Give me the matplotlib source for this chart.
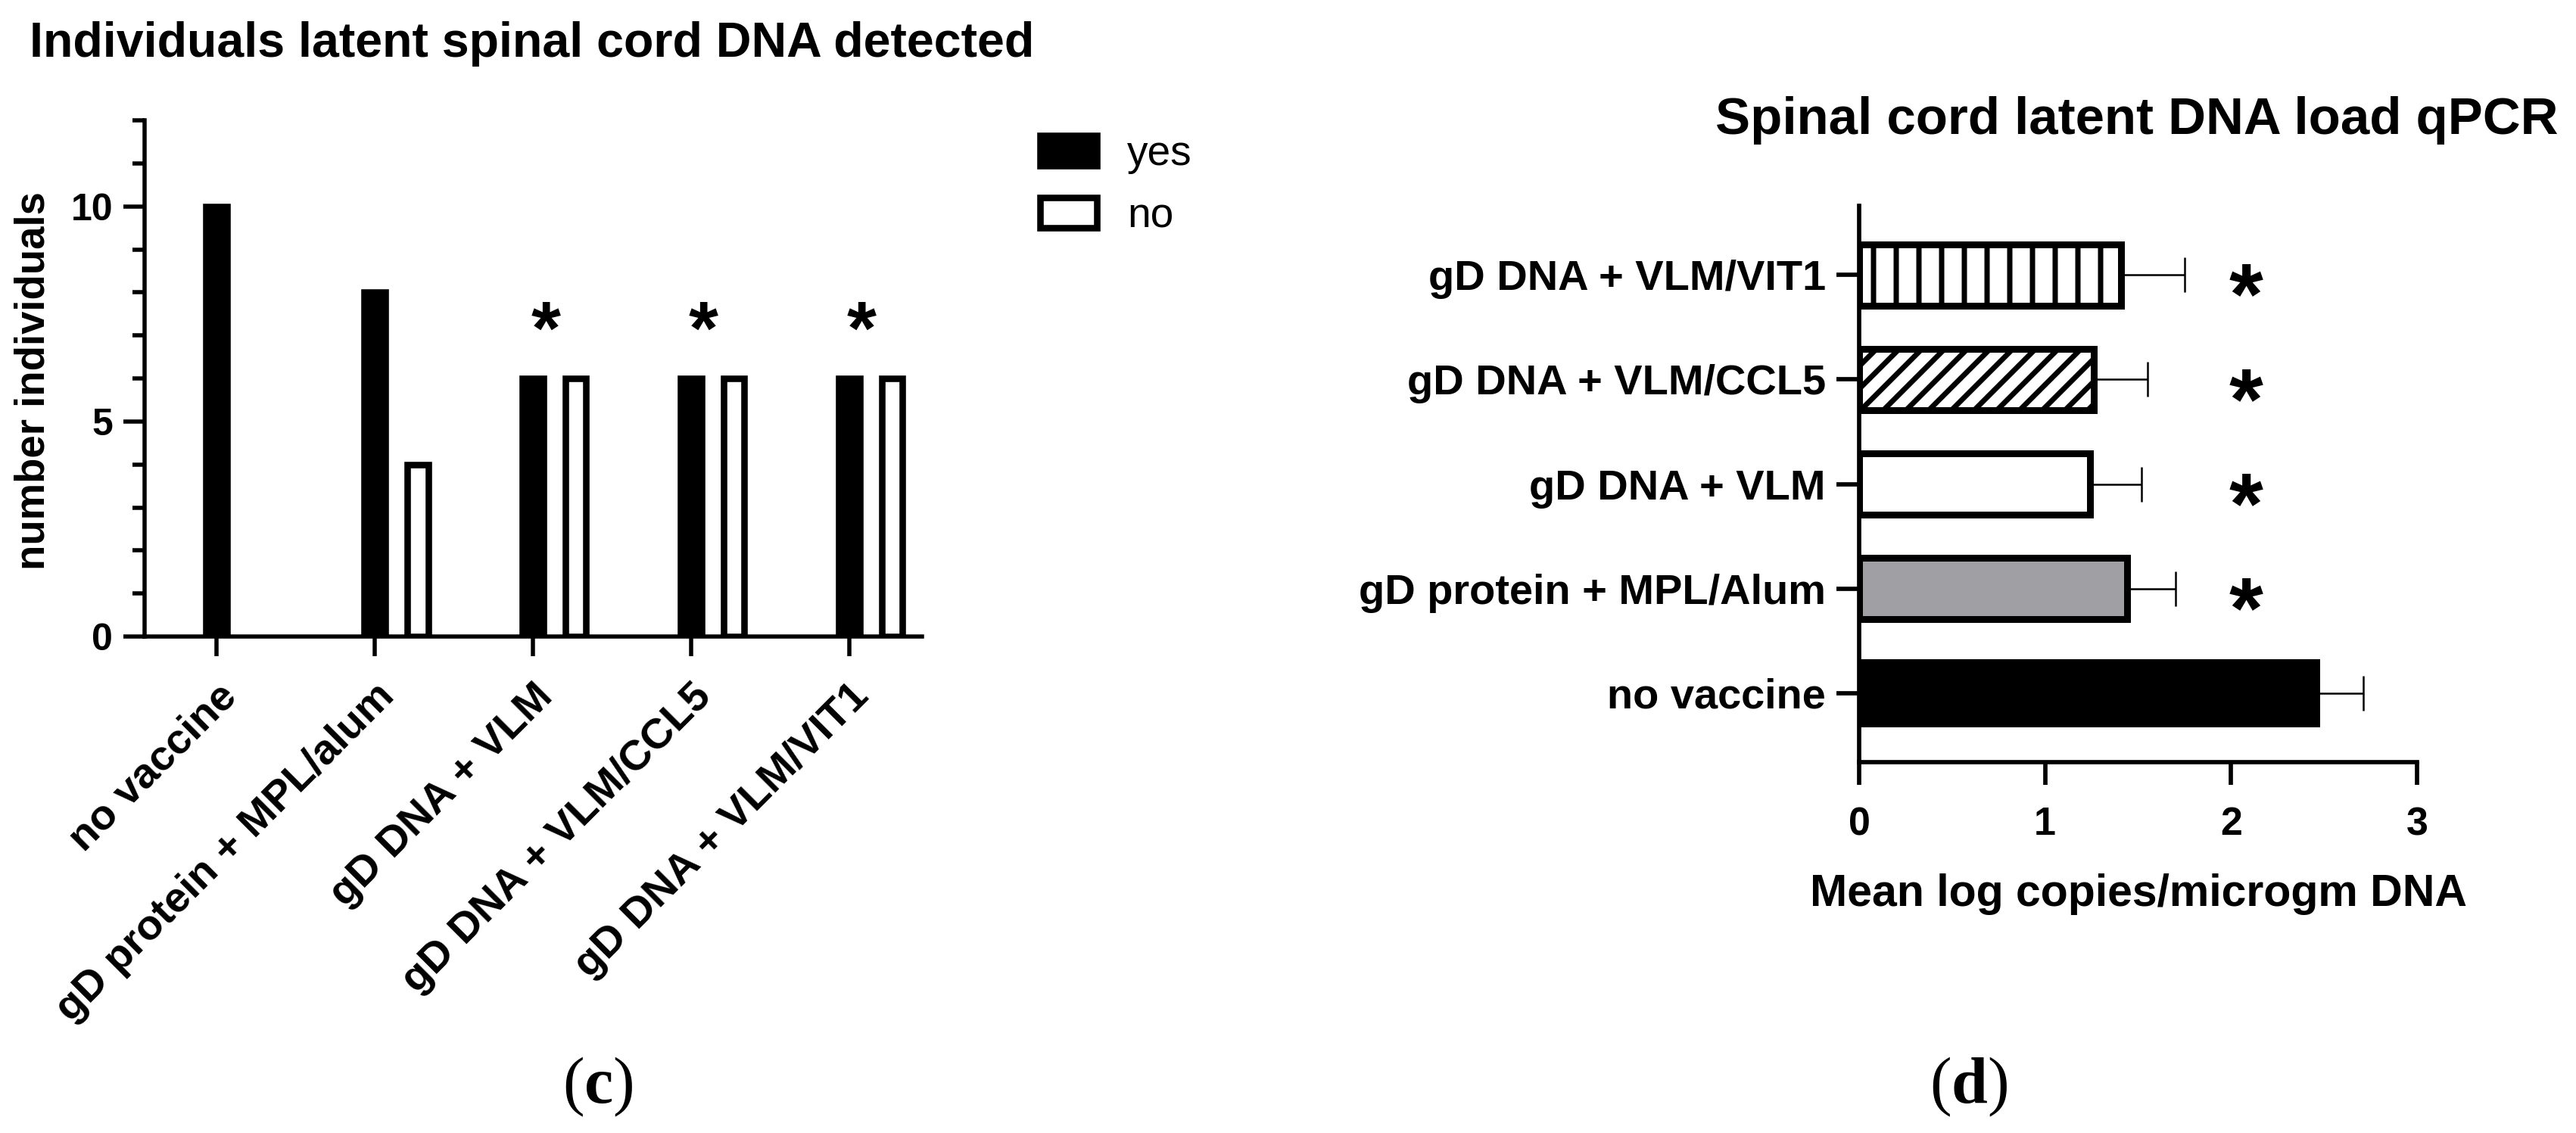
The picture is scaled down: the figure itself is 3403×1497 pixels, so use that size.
import matplotlib.pyplot as plt
import matplotlib.patches as mpatches
from matplotlib.ticker import MultipleLocator
import numpy as np

W, H = 3403, 1497
DPI = 180


def pt(px):
    """Pixels -> points at the figure dpi."""
    return px * 72 / DPI


def fxy(x, y):
    """Pixel position (from top-left) -> figure fraction."""
    return x / W, 1 - y / H


plt.rcParams["font.family"] = ["Liberation Sans", "DejaVu Sans"]
plt.rcParams["font.weight"] = "bold"
plt.rcParams["hatch.linewidth"] = pt(7)
plt.rcParams["hatch.color"] = "black"
plt.rcParams["mathtext.fontset"] = "custom"
plt.rcParams["mathtext.rm"] = "Liberation Serif"
plt.rcParams["mathtext.bf"] = "Liberation Serif:bold"

# (c) individuals with latent spinal cord DNA
groups_c = [
    "no vaccine",
    "gD protein + MPL/alum",
    "gD DNA + VLM",
    "gD DNA + VLM/CCL5",
    "gD DNA + VLM/VIT1",
]
yes_c = [10, 8, 6, 6, 6]
no_c = [0, 4, 6, 6, 6]
sig_c = [False, False, True, True, True]

# (d) latent DNA load qPCR
groups_d = [
    "no vaccine",
    "gD protein + MPL/Alum",
    "gD DNA + VLM",
    "gD DNA + VLM/CCL5",
    "gD DNA + VLM/VIT1",
]
mean_d = [2.46, 1.44, 1.24, 1.26, 1.41]
err_d = [0.25, 0.26, 0.28, 0.29, 0.34]
fill_d = ["black", "#a09fa4", "white", "white", "white"]
hatch_d = ["", "", "", "//", "|"]
sig_d = [False, True, True, True, True]

fig = plt.figure(figsize=(W / DPI, H / DPI), dpi=DPI)

# ---- panel (c) ----
axc = fig.add_axes([191 / W, 1 - 841 / H, 1027 / W, 682 / H])
x = np.arange(len(groups_c))
bw = 0.131
edge = pt(8.6)
axc.bar(x, yes_c, bw, color="black", edgecolor="black", linewidth=edge)
no_bars = axc.bar(x + 0.272, no_c, bw, color="white", edgecolor="black", linewidth=edge)
for b, v in zip(no_bars, no_c):
    if v == 0:
        b.set_visible(False)

for i, s in enumerate(sig_c):
    if s:
        fs = pt(100)
        axc.annotate("*", xy=(i + 0.08, 7.55), xytext=(0, -0.56 * fs),
                     textcoords="offset points", ha="center", va="baseline",
                     fontsize=fs)

axc.set_xlim(-0.455, 4.46)
axc.set_ylim(0, 12)
axc.spines[["top", "right"]].set_visible(False)
for s in ["left", "bottom"]:
    axc.spines[s].set_linewidth(pt(5.5))
axc.set_yticks([0, 5, 10])
axc.yaxis.set_minor_locator(MultipleLocator(1))
axc.tick_params(axis="y", which="major", length=pt(28), width=pt(5.5),
                labelsize=pt(50), pad=pt(14))
axc.tick_params(axis="y", which="minor", length=pt(16), width=pt(5.5))
axc.set_xticks(x, groups_c, rotation=45, ha="right", rotation_mode="anchor")
axc.tick_params(axis="x", length=pt(26), width=pt(5.5), labelsize=pt(56),
                pad=pt(27))

fig.text(*fxy(45, 503), "number individuals", rotation=90, ha="center",
         va="center", fontsize=pt(54.5))
fig.text(*fxy(703, 75), "Individuals latent spinal cord DNA detected",
         ha="center", va="baseline", fontsize=pt(64.5))

handles = [
    mpatches.Patch(facecolor="black", edgecolor="black", linewidth=edge),
    mpatches.Patch(facecolor="white", edgecolor="black", linewidth=edge),
]
fig.legend(handles, ["yes", "no"], loc="upper left",
           bbox_to_anchor=fxy(1374, 178), frameon=False, fontsize=pt(55),
           prop={"weight": "normal", "size": pt(55)},
           handlelength=75 / 55, handleheight=40 / 55, handletextpad=40 / 55,
           labelspacing=0.55, borderpad=0, borderaxespad=0)

# ---- panel (d) ----
axd = fig.add_axes([2456 / W, 1 - 1007 / H, 737 / W, 735 / H])
y = np.arange(len(groups_d))
bars = axd.barh(y, mean_d, height=0.586, color=fill_d, edgecolor="black",
                linewidth=pt(9))
for b, h in zip(bars, hatch_d):
    b.set_hatch(h)
axd.errorbar(mean_d, y, xerr=[np.zeros(len(err_d)), err_d], fmt="none",
             ecolor="black", elinewidth=pt(2.5), capsize=pt(23),
             capthick=pt(2.5), zorder=0.5)

for i, s in enumerate(sig_d):
    if s:
        fs = pt(115)
        axd.annotate("*", xy=(2.08, i), xytext=(0, -0.56 * fs),
                     textcoords="offset points", ha="center", va="baseline",
                     fontsize=fs)

axd.set_xlim(0, 3)
axd.set_ylim(-0.66, 4.66)
axd.spines[["top", "right"]].set_visible(False)
for s in ["left", "bottom"]:
    axd.spines[s].set_linewidth(pt(5.7))
axd.set_yticks(y, groups_d)
axd.set_xticks([0, 1, 2, 3])
axd.tick_params(axis="y", length=pt(30), width=pt(5.7), labelsize=pt(56),
                pad=pt(14))
axd.tick_params(axis="x", length=pt(30), width=pt(5.7), labelsize=pt(52),
                pad=pt(28))

fig.text(*fxy(2823, 177), "Spinal cord latent DNA load qPCR", ha="center",
         va="baseline", fontsize=pt(69))
fig.text(*fxy(2825, 1197), "Mean log copies/microgm DNA", ha="center",
         va="baseline", fontsize=pt(59))

# panel letters
fig.text(*fxy(790, 1436), r"($\mathbf{c}$)", ha="center", va="center",
         fontsize=pt(86), family="Liberation Serif", fontweight="normal")
fig.text(*fxy(2601, 1436), r"($\mathbf{d}$)", ha="center", va="center",
         fontsize=pt(86), family="Liberation Serif", fontweight="normal")

fig.savefig("out.png", dpi=DPI)
